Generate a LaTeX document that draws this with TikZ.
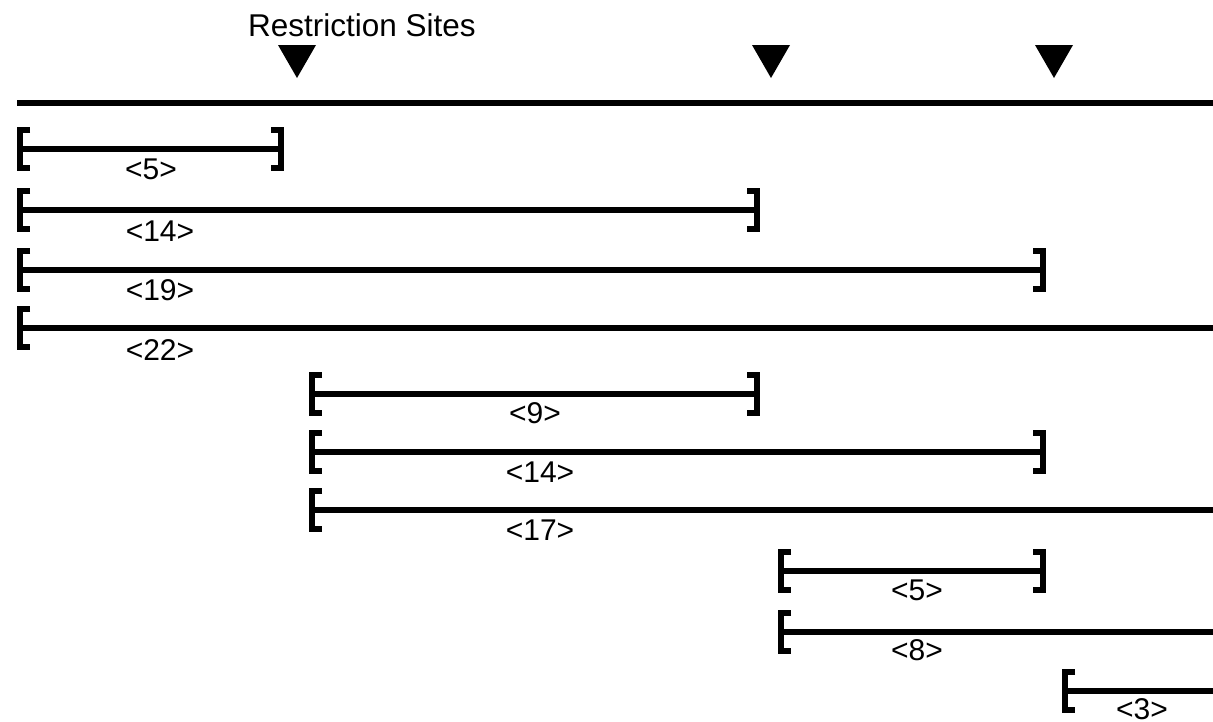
\documentclass[tikz,border=0pt]{standalone}
\usepackage{fontspec}
\setmainfont{Liberation Sans}
\begin{document}
\begin{tikzpicture}[x=1pt,y=-1pt,
  bar/.style={line width=6pt,line cap=butt},
  brk/.style={line width=6.5pt,line cap=butt,line join=miter},
  lab/.style={font=\fontsize{30}{34}\selectfont,inner sep=0pt},
  ttl/.style={font=\fontsize{31.5}{36}\selectfont,inner sep=0pt},
  site/.style={fill=black},
  lbrack/.pic={\draw[brk] (10,-19) -- (0,-19) -- (0,19) -- (10,19);},
  rbrack/.pic={\draw[brk] (-10,-19) -- (0,-19) -- (0,19) -- (-10,19);}]
\useasboundingbox (0,0) rectangle (1213,721);

% title and restriction sites
\node[ttl] (title) at (362,25) {Restriction Sites};
\coordinate (s1) at (297,78);
\coordinate (s2) at (771,78);
\coordinate (s3) at (1054,78);
\foreach \s in {s1,s2,s3}
  \fill[site] (\s) -- ([xshift=-19pt,yshift=33pt]\s) -- ([xshift=19pt,yshift=33pt]\s) -- cycle;

% main DNA line
\coordinate (m0) at (17,103);
\coordinate (m1) at (1213,103);
\draw[bar] (m0) -- (m1);

% fragments
\coordinate (a1) at (20,149);   \coordinate (b1) at (281,149);
\coordinate (a2) at (20,210);   \coordinate (b2) at (757,210);
\coordinate (a3) at (20,270);   \coordinate (b3) at (1043,270);
\coordinate (a4) at (20,328);   \coordinate (b4) at (1213,328);
\coordinate (a5) at (312,394);  \coordinate (b5) at (757,394);
\coordinate (a6) at (312,452);  \coordinate (b6) at (1043,452);
\coordinate (a7) at (312,510);  \coordinate (b7) at (1213,510);
\coordinate (a8) at (781,571);  \coordinate (b8) at (1043,571);
\coordinate (a9) at (781,632);  \coordinate (b9) at (1213,632);
\coordinate (a10) at (1065,691); \coordinate (b10) at (1213,691);

\foreach \i in {1,...,10} \draw[bar] (a\i) -- (b\i);
\foreach \i in {1,...,10} \pic at (a\i) {lbrack};
\foreach \i in {1,2,3,5,6,8} \pic at (b\i) {rbrack};

% labels
\node[lab] (l1) at (151,169) {<5>};
\node[lab] (l2) at (160,231) {<14>};
\node[lab] (l3) at (160,290) {<19>};
\node[lab] (l4) at (160,350) {<22>};
\node[lab] (l5) at (535,413) {<9>};
\node[lab] (l6) at (540,472) {<14>};
\node[lab] (l7) at (540,530) {<17>};
\node[lab] (l8) at (917,590) {<5>};
\node[lab] (l9) at (917,650) {<8>};
\node[lab] (l10) at (1142,709) {<3>};
\end{tikzpicture}
\end{document}
